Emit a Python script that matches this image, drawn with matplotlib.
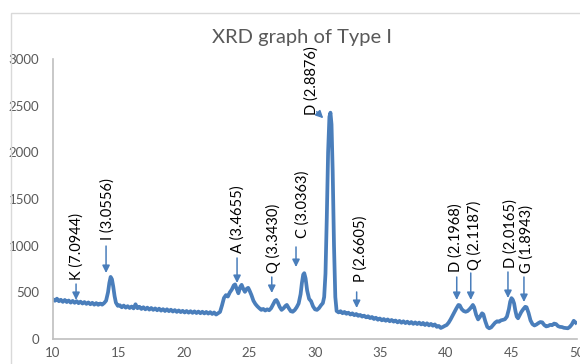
#!/bin/python

# XRD graph of Type I - recreated from the Excel chart

import matplotlib
matplotlib.use("Agg")
import matplotlib.pyplot as plt
from matplotlib.patches import Rectangle

# 2-theta (deg)
two_theta = [10.0, 10.15, 10.3, 10.45, 10.6, 10.75, 10.9, 11.05, 11.2, 11.35, 11.5, 11.65, 11.8, 11.95,
	12.1, 12.25, 12.4, 12.55, 12.7, 12.85, 13.0, 13.15, 13.3, 13.45, 13.6, 13.75, 13.9, 14.05,
	14.2, 14.3, 14.4, 14.5, 14.6, 14.7, 14.8, 14.95, 15.1, 15.25, 15.4, 15.55, 15.7, 15.85,
	16.0, 16.15, 16.3, 16.45, 16.6, 16.75, 16.9, 17.05, 17.2, 17.35, 17.5, 17.65, 17.8, 17.95,
	18.1, 18.25, 18.4, 18.55, 18.7, 18.85, 19.0, 19.15, 19.3, 19.45, 19.6, 19.75, 19.9, 20.05,
	20.2, 20.35, 20.5, 20.65, 20.8, 20.95, 21.1, 21.25, 21.4, 21.55, 21.7, 21.85, 22.0, 22.15,
	22.3, 22.45, 22.6, 22.75, 22.9, 23.05, 23.2, 23.35, 23.5, 23.65, 23.8, 23.9, 24.0, 24.15,
	24.3, 24.4, 24.5, 24.65, 24.8, 24.9, 25.0, 25.15, 25.3, 25.45, 25.6, 25.75, 25.9, 26.05,
	26.2, 26.35, 26.5, 26.65, 26.8, 26.95, 27.05, 27.15, 27.3, 27.45, 27.6, 27.75, 27.85, 28.0,
	28.15, 28.3, 28.45, 28.6, 28.75, 28.9, 29.0, 29.1, 29.18, 29.28, 29.4, 29.55, 29.7, 29.85,
	30.0, 30.15, 30.3, 30.45, 30.6, 30.7, 30.8, 30.9, 31.0, 31.1, 31.18, 31.26, 31.35, 31.45,
	31.55, 31.65, 31.8, 31.95, 32.1, 32.25, 32.4, 32.55, 32.7, 32.85, 33.0, 33.15, 33.3, 33.45,
	33.6, 33.75, 33.9, 34.05, 34.2, 34.35, 34.5, 34.65, 34.8, 34.95, 35.1, 35.25, 35.4, 35.55,
	35.7, 35.85, 36.0, 36.15, 36.3, 36.45, 36.6, 36.75, 36.9, 37.05, 37.2, 37.35, 37.5, 37.65,
	37.8, 37.95, 38.1, 38.25, 38.4, 38.55, 38.7, 38.85, 39.0, 39.15, 39.3, 39.45, 39.6, 39.75,
	39.9, 40.05, 40.2, 40.35, 40.5, 40.65, 40.8, 40.95, 41.05, 41.2, 41.35, 41.5, 41.65, 41.8,
	41.95, 42.05, 42.15, 42.3, 42.45, 42.6, 42.75, 42.85, 43.0, 43.15, 43.3, 43.45, 43.6, 43.75,
	43.9, 44.05, 44.2, 44.35, 44.5, 44.65, 44.8, 44.9, 45.0, 45.1, 45.2, 45.3, 45.4, 45.5,
	45.6, 45.75, 45.9, 46.05, 46.15, 46.3, 46.45, 46.6, 46.75, 46.9, 47.05, 47.2, 47.35, 47.5,
	47.65, 47.8, 47.95, 48.1, 48.25, 48.4, 48.55, 48.7, 48.85, 49.0, 49.15, 49.3, 49.45, 49.6,
	49.75, 49.9]

# intensity (counts)
intensity = [425, 410, 432, 405, 420, 398, 418, 396, 412, 390, 408, 388, 405, 384,
	400, 380, 396, 376, 392, 372, 388, 368, 385, 366, 380, 368, 385, 410,
	500, 600, 665, 640, 560, 460, 390, 355, 362, 340, 358, 336, 352, 332,
	348, 328, 372, 330, 345, 322, 340, 318, 336, 315, 332, 312, 328, 308,
	325, 304, 320, 300, 318, 298, 314, 294, 310, 290, 306, 288, 302, 284,
	300, 282, 298, 280, 296, 278, 294, 276, 292, 274, 290, 272, 288, 268,
	284, 262, 276, 290, 360, 440, 470, 455, 500, 530, 575, 585, 545, 490,
	560, 580, 545, 505, 540, 548, 520, 470, 410, 375, 350, 330, 312, 322,
	305, 318, 308, 330, 370, 410, 418, 395, 345, 312, 330, 355, 365, 330,
	298, 292, 310, 340, 380, 480, 600, 690, 705, 650, 520, 430, 405, 350,
	318, 312, 330, 360, 385, 450, 700, 1300, 2000, 2380, 2425, 2300, 1800, 1000,
	450, 300, 285, 298, 276, 290, 270, 282, 262, 275, 255, 268, 248, 258,
	240, 250, 232, 244, 224, 236, 214, 228, 206, 220, 200, 214, 195, 210,
	190, 204, 186, 198, 178, 194, 174, 190, 170, 186, 166, 182, 162, 178,
	160, 176, 156, 172, 150, 168, 146, 162, 142, 156, 130, 140, 118, 128,
	140, 150, 175, 210, 250, 290, 330, 365, 360, 320, 300, 292, 300, 320,
	345, 365, 340, 260, 210, 240, 275, 265, 190, 130, 115, 125, 150, 175,
	190, 185, 200, 205, 212, 240, 320, 400, 438, 420, 380, 300, 240, 222,
	250, 290, 320, 345, 340, 280, 200, 160, 145, 155, 170, 182, 178, 150,
	135, 140, 152, 148, 165, 160, 138, 130, 128, 120, 118, 115, 130, 155,
	195, 175]

# peak labels
peak_labels = ["K (7.0944)", "I (3.0556)", "A (3.4655)", "Q (3.3430)", "C (3.0363)", "D (2.8876)",
	"P (2.6605)", "D (2.1968)", "Q (2.1187)", "D (2.0165)", "G (1.8943)"]
label_x = [11.76, 14.2, 24.12, 26.8, 29.08, 29.75, 33.44, 40.76, 42.14, 44.96, 46.16]
label_y = [632, 1061, 921, 707, 1082, 2400, 611, 718, 739, 761, 707]
arrow_x0 = [11.76, 14.05, 24.05, 26.7, 28.55, 30.13, 33.18, 40.82, 41.89, 44.73, 45.95]
arrow_y0 = [589, 996, 868, 664, 986, 2435, 504, 664, 707, 718, 664]
arrow_x1 = [11.76, 14.05, 24.05, 26.7, 28.55, 30.63, 33.18, 40.82, 41.89, 44.73, 45.95]
arrow_y1 = [418, 707, 600, 493, 771, 2365, 332, 418, 418, 439, 396]

x_ticks = [10, 15, 20, 25, 30, 35, 40, 45, 50]
y_ticks = [0, 500, 1000, 1500, 2000, 2500, 3000]

BLUE = "#4a7ebb"
GREY = "#595959"

plt.rcParams['font.family'] = ['Lato', 'DejaVu Sans']

fig = plt.figure(figsize=(5.8, 3.64), dpi=100)
ax = fig.add_axes([53/580, 1-339/364, 524/580, 280/364])

# chart area border
fig.add_artist(Rectangle((11/580, -0.1), 1.0, 1.1 - 13/364, transform=fig.transFigure,
	fill=False, edgecolor="#d9d9d9", lw=1.0))

ax.plot(two_theta, intensity, color=BLUE, lw=2.7, solid_joinstyle="round")

for i in range(len(peak_labels)):
	ax.text(label_x[i], label_y[i], peak_labels[i], rotation=90, ha="center", va="bottom",
		fontsize=10.5, color="black")
	ax.annotate("", xy=(arrow_x1[i], arrow_y1[i]), xytext=(arrow_x0[i], arrow_y0[i]),
		arrowprops=dict(arrowstyle="-|>", color=BLUE, lw=1.1, mutation_scale=11,
			shrinkA=0, shrinkB=0))

ax.set_xlim(10, 50)
ax.set_ylim(0, 3000)
ax.set_xticks(x_ticks)
ax.set_yticks(y_ticks)
ax.tick_params(length=0, labelsize=9.5, labelcolor=GREY)
ax.tick_params(axis="y", pad=10)
ax.tick_params(axis="x", pad=6)
for s in ["top", "right"]:
	ax.spines[s].set_visible(False)
for s in ["left", "bottom"]:
	ax.spines[s].set_color("#bfbfbf")
	ax.spines[s].set_linewidth(1.2)
ax.patch.set_visible(False)

fig.text(302/580, 1-38/364, "XRD graph of Type I", ha="center", va="center",
	fontsize=14.5, color=GREY)

plt.savefig("out.png", dpi=100)
